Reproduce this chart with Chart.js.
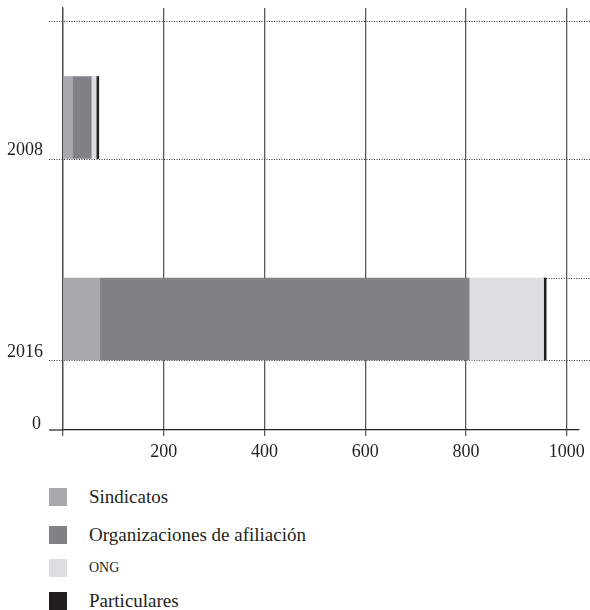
<!DOCTYPE html>
<html>
<head>
<meta charset="utf-8">
<script src="https://cdn.jsdelivr.net/npm/chart.js@4/dist/chart.umd.min.js"></script>
<style>
body { margin:0; background:#fff; font-family:"Liberation Serif", serif; color:#231f20; }
#caja { position:relative; width:590px; height:610px; }
#grafica { position:absolute; left:0; top:0; }
#leyenda { position:absolute; left:49px; top:488px; }
.fila { display:flex; align-items:center; height:18px; margin-bottom:15px; font-size:19px; white-space:nowrap; }
.fila:first-child { margin-bottom:20px; }
.cuadro { width:18px; height:18px; margin-right:22px; }
.chica { font-size:14px; }
</style>
</head>
<body>
<div id="caja">
  <canvas id="grafica" width="590" height="470"></canvas>
  <div id="leyenda"></div>
</div>
<script>
var anios = [2008, 2016];
var categorias = ['Sindicatos', 'Organizaciones de afiliación', 'ONG', 'Particulares'];
var sindicatos = [19, 73];
var organizaciones = [37, 733];
var ong = [10, 148];
var particulares = [5, 5];
var colores = ['#a7a9ac', '#808285', '#dcddde', '#231f20'];
var marcasX = [0, 200, 400, 600, 800, 1000];

var series = [sindicatos, organizaciones, ong, particulares];
var fuente = { family: 'Liberation Serif', size: 18 };

var datasets = [];
for (var i = 0; i < series.length; i++) {
    datasets.push({
        label: categorias[i],
        data: anios.map(function(a, k){ return { x: series[i][k], y: a }; }),
        backgroundColor: colores[i],
        borderWidth: 0,
        barThickness: 82
    });
}

// lineas punteadas, extension del eje y el "0" de abajo
var extras = {
    id: 'extras',
    beforeDatasetsDraw: function(chart){
        var ctx = chart.ctx, area = chart.chartArea;
        var lineas = [[area.left - 14, area.top + 13]];
        chart.getDatasetMeta(0).data.forEach(function(b){ lineas.push([area.left - 14, b.y + b.height / 2]); });
        // arriba de la ultima barra, solo a la derecha
        var ultima = chart.getDatasetMeta(datasets.length - 1).data;
        var b = ultima[ultima.length - 1];
        lineas.push([b.x, b.y - b.height / 2]);
        ctx.save();
        ctx.strokeStyle = '#333';
        ctx.lineWidth = 1;
        ctx.setLineDash([1, 1.5]);
        lineas.forEach(function(l){
            var yy = Math.round(l[1]) + 0.5;
            ctx.beginPath();
            ctx.moveTo(l[0], yy);
            ctx.lineTo(chart.width, yy);
            ctx.stroke();
        });
        ctx.restore();
    },
    afterDraw: function(chart){
        var ctx = chart.ctx, area = chart.chartArea;
        ctx.save();
        ctx.strokeStyle = '#231f20';
        ctx.lineWidth = 1.2;
        ctx.beginPath();
        ctx.moveTo(area.left - 14, area.bottom);
        ctx.lineTo(area.left, area.bottom);
        ctx.stroke();
        ctx.fillStyle = '#231f20';
        ctx.font = '18px "Liberation Serif"';
        ctx.textAlign = 'right';
        ctx.textBaseline = 'middle';
        ctx.fillText('0', area.left - 22, area.bottom - 6);
        ctx.restore();
    }
};

var ctx = document.getElementById('grafica').getContext('2d');

var grafica = new Chart(ctx, {
    type: 'bar',
    data: { datasets: datasets },
    options: {
        indexAxis: 'y',
        responsive: false,
        animation: false,
        layout: { padding: { top: 8, right: 8, left: 0, bottom: 0 } },
        plugins: { legend: { display: false }, tooltip: { enabled: false } },
        scales: {
            x: {
                type: 'linear',
                stacked: true,
                min: 0,
                max: 1024,
                afterBuildTicks: function(s){ s.ticks = marcasX.map(function(v){ return { value: v }; }); },
                afterFit: function(s){ s.height = 40; },
                grid: { color: '#5a5a5c', lineWidth: 1.3, tickLength: 6 },
                border: { color: '#231f20', width: 1.2 },
                ticks: {
                    color: '#231f20',
                    font: fuente,
                    padding: 5,
                    maxRotation: 0,
                    callback: function(v){ return v === 0 ? '' : v; }
                }
            },
            y: {
                type: 'linear',
                stacked: true,
                reverse: true,
                offset: false,
                min: 2003.65,
                max: 2020.41,
                afterBuildTicks: function(s){ s.ticks = anios.map(function(v){ return { value: v }; }); },
                afterFit: function(s){ s.width = 63; s.paddingTop = 0; s.paddingBottom = 0; },
                grid: { display: false, drawTicks: true, tickLength: 20 },
                border: { color: '#4a4a4c', width: 1.3 },
                ticks: {
                    color: '#231f20',
                    font: fuente,
                    padding: 0,
                    labelOffset: 33,
                    callback: function(v){ return String(v); }
                }
            }
        }
    },
    plugins: [extras]
});

// leyenda aparte, hacia abajo
var leyenda = document.getElementById('leyenda');
categorias.forEach(function(c, i){
    var fila = document.createElement('div');
    fila.className = 'fila';
    fila.innerHTML = '<span class="cuadro" style="background:' + colores[i] + '"></span><span' + (c === 'ONG' ? ' class="chica"' : '') + '>' + c + '</span>';
    leyenda.appendChild(fila);
});
</script>
</body>
</html>
